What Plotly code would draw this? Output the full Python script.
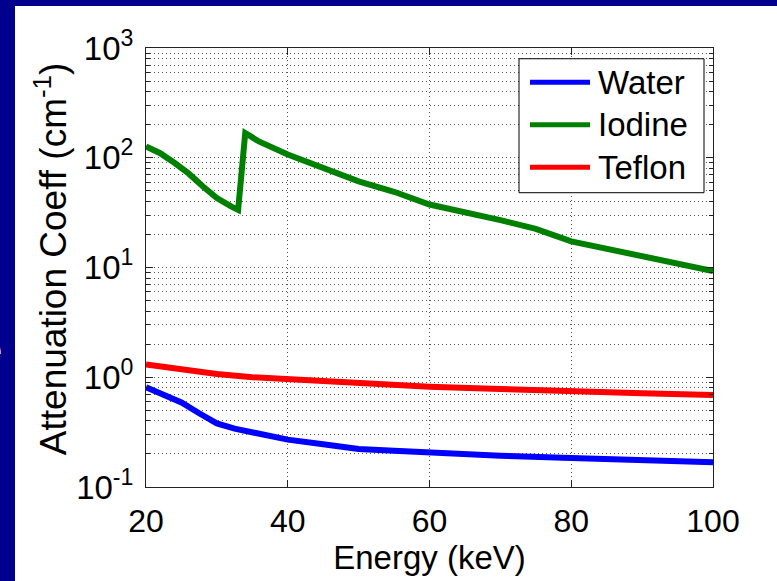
import plotly.graph_objects as go

# Energy grid (keV) and linear attenuation coefficients (cm^-1)
water_energy = [20, 22.5, 25, 27.5, 30, 32.5, 35, 40, 45, 50, 55, 60, 70, 80, 90, 100]
water_mu = [0.81, 0.70, 0.59, 0.47, 0.38, 0.34, 0.315, 0.27, 0.245, 0.222, 0.214, 0.205,
            0.193, 0.184, 0.176, 0.168]

iodine_energy = [20, 22, 24, 26, 28, 30, 32, 33, 34, 36, 40, 44, 50, 55, 60, 70, 75, 80,
                 85, 90, 100]
iodine_mu = [127, 110, 90, 72, 55, 43, 36, 33.5, 168, 140, 107, 85, 61, 49, 37.5, 27,
             22.5, 17.3, 14.8, 12.5, 9.3]

teflon_energy = [20, 25, 30, 35, 40, 50, 60, 70, 80, 90, 100]
teflon_mu = [1.31, 1.17, 1.07, 1.0, 0.96, 0.88, 0.82, 0.78, 0.74, 0.715, 0.69]

series_names = ["Water", "Iodine", "Teflon"]
series_colors = ["#0000FF", "#008000", "#FF0000"]

x_ticks = [20, 40, 60, 80, 100]
y_ticks = [0.1, 1, 10, 100, 1000]
y_tick_text = ["10<sup>-1</sup>", "10<sup>0</sup>", "10<sup>1</sup>",
               "10<sup>2</sup>", "10<sup>3</sup>"]
y_minor = [m * 10 ** e for e in range(-1, 3) for m in range(2, 10)]

FONT = "Liberation Sans, Arial, sans-serif"
SLIDE_BLUE = "#00008E"
GRID = "#555555"
DOTS = "1px,3px"

fig = go.Figure()
for name, xs, ys, color in zip(series_names,
                               [water_energy, iodine_energy, teflon_energy],
                               [water_mu, iodine_mu, teflon_mu],
                               series_colors):
    fig.add_trace(go.Scatter(x=xs, y=ys, name=name, mode="lines",
                             line=dict(color=color, width=6), showlegend=False))

W, H = 777, 581
L, R, T, B = 146, 64, 48, 84
pw, ph = W - L - R, H - T - B


def px_x(p):
    return (p - L) / pw


def px_y(p):
    return (H - B - p) / ph


# Slide background: white panel on blue, with blue strips on top and left
fig.add_shape(type="rect", xref="paper", yref="paper", layer="below",
              x0=px_x(15), x1=px_x(800), y0=px_y(600), y1=px_y(5),
              fillcolor="white", line_width=0)

# Partial slide text at the far left edge
fig.add_annotation(xref="paper", yref="paper", x=px_x(4), y=px_y(356),
                   xanchor="right", yanchor="middle", text="e", showarrow=False,
                   font=dict(family=FONT, size=44, color="white"))

# Vertical axis title
fig.add_annotation(xref="paper", yref="paper", x=px_x(51), y=px_y(264),
                   xanchor="center", yanchor="middle", textangle=-90,
                   text="Attenuation Coeff (cm<sup>-1</sup>)", showarrow=False,
                   font=dict(family=FONT, size=37, color="black"))

# Boxed legend with long line swatches
fig.add_shape(type="rect", xref="paper", yref="paper", layer="above",
              x0=px_x(519), x1=px_x(704), y0=px_y(196), y1=px_y(59),
              fillcolor="white", line=dict(color="black", width=1))
for i, (name, color) in enumerate(zip(series_names, series_colors)):
    yc = 83 + i * 43.5
    fig.add_shape(type="line", xref="paper", yref="paper", layer="above",
                  x0=px_x(530), x1=px_x(590), y0=px_y(yc), y1=px_y(yc),
                  line=dict(color=color, width=5))
    fig.add_annotation(xref="paper", yref="paper", x=px_x(596), y=px_y(yc),
                       xanchor="left", yanchor="middle", text=name, showarrow=False,
                       font=dict(family=FONT, size=33, color="black"))

fig.update_layout(
    width=W, height=H,
    margin=dict(l=L, r=R, t=T, b=B, pad=0),
    paper_bgcolor=SLIDE_BLUE,
    plot_bgcolor="white",
    font=dict(family=FONT, color="black"),
    showlegend=False,
)

fig.update_xaxes(
    range=[20, 100], tickvals=x_ticks, ticks="inside", ticklen=7, tickcolor="#222",
    showline=True, linecolor="#222", linewidth=1, mirror="ticks",
    showgrid=True, gridcolor=GRID, griddash=DOTS, gridwidth=1, zeroline=False,
    ticklabelstandoff=6,
    tickfont=dict(family=FONT, size=32, color="black"),
    title=dict(text="Energy (keV)", font=dict(family=FONT, size=33, color="black"),
               standoff=6),
)
fig.update_yaxes(
    type="log", range=[-1, 3], tickmode="array", tickvals=y_ticks, ticktext=y_tick_text,
    ticks="inside", ticklen=7, tickcolor="#222",
    showline=True, linecolor="#222", linewidth=1, mirror="ticks",
    showgrid=True, gridcolor=GRID, griddash=DOTS, gridwidth=1, zeroline=False,
    minor=dict(tickmode="array", tickvals=y_minor, ticks="inside", ticklen=4,
               tickcolor="#222", showgrid=True, gridcolor=GRID, griddash=DOTS,
               gridwidth=1),
    ticklabelstandoff=5,
    tickfont=dict(family=FONT, size=33, color="black"),
)

fig.write_html("out.html")
